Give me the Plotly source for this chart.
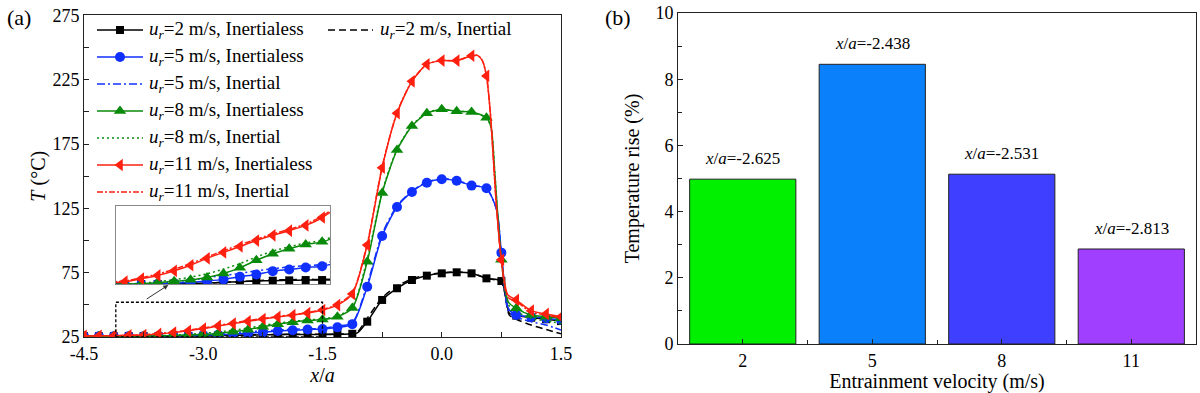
import plotly.graph_objects as go

# ---------------- data: panel (a) ----------------
x_grid = [-4.5, -4.3125, -4.125, -3.9375, -3.75, -3.5625, -3.375, -3.1875, -3.0, -2.8125,
          -2.625, -2.4375, -2.25, -2.0625, -1.875, -1.6875, -1.5, -1.3125, -1.125, -0.9375,
          -0.75, -0.5625, -0.375, -0.1875, 0.0, 0.1875, 0.375, 0.5625, 0.75, 0.9375,
          1.125, 1.3125, 1.5]

T2_inertialess = [25.6, 25.6, 25.6, 25.7, 25.7, 25.8, 25.8, 25.9, 26.0, 26.1,
                  26.3, 26.5, 26.7, 26.8, 26.9, 27.0, 27.0, 27.1, 27.5, 36.9,
                  53.8, 62.9, 69.3, 72.7, 74.5, 75.3, 74.5, 70.6, 68.5, 41.6,
                  40.0, 38.8, 37.4]
T2_inertial = [25.6, 25.6, 25.6, 25.7, 25.7, 25.8, 25.8, 25.9, 26.0, 26.1,
               26.3, 26.5, 26.8, 27.0, 27.1, 27.2, 27.2, 27.3, 27.8, 39.5,
               55.5, 64.5, 70.3, 73.3, 75.0, 75.6, 74.6, 70.8, 67.5, 38.8,
               34.3, 30.8, 27.5]
T5_inertialess = [25.5, 25.5, 25.5, 25.6, 25.6, 25.7, 25.8, 26.0, 26.3, 26.7,
                  27.2, 28.0, 28.7, 29.7, 30.2, 30.8, 31.2, 32.5, 35.0, 64.1,
                  103.5, 126.1, 137.8, 145.0, 147.6, 146.5, 142.7, 140.6, 90.6, 42.1,
                  40.8, 39.5, 38.2]
T5_inertial = [25.5, 25.5, 25.5, 25.6, 25.7, 25.8, 26.0, 26.4, 27.0, 27.7,
               28.4, 29.0, 29.8, 30.4, 31.0, 31.4, 31.7, 33.5, 36.0, 66.0,
               105.0, 127.0, 138.5, 145.5, 148.0, 147.0, 143.0, 140.5, 90.0, 40.5,
               36.9, 34.3, 30.4]
T8_inertialess = [25.5, 25.5, 25.6, 25.6, 25.7, 25.9, 26.2, 26.6, 27.1, 27.8,
                  29.0, 30.7, 33.0, 35.0, 36.5, 37.8, 38.6, 40.8, 47.5, 83.6,
                  137.0, 170.4, 189.0, 199.0, 202.0, 200.5, 200.0, 195.5, 85.0, 47.3,
                  42.1, 40.8, 39.5]
T8_inertial = [25.5, 25.5, 25.6, 25.7, 25.8, 26.0, 26.5, 27.1, 27.9, 28.9,
               30.3, 32.0, 34.0, 35.8, 37.1, 38.3, 39.0, 41.3, 48.5, 85.5,
               138.0, 171.0, 189.5, 199.3, 202.0, 200.5, 200.0, 195.3, 84.0, 45.0,
               39.5, 37.5, 35.5]
T11_inertialess = [25.8, 25.9, 26.0, 26.2, 26.5, 27.4, 28.4, 29.8, 31.5, 33.6,
                   35.4, 37.2, 39.0, 40.6, 42.0, 43.6, 46.0, 49.8, 58.5, 96.5,
                   156.6, 199.0, 223.8, 237.0, 239.9, 239.9, 243.7, 228.0, 85.0, 53.8,
                   45.5, 42.9, 40.8]
T11_inertial = [25.8, 25.9, 26.1, 26.4, 26.7, 27.7, 28.8, 30.3, 32.0, 34.0,
                35.9, 37.7, 39.4, 41.0, 42.4, 44.0, 46.4, 50.3, 59.3, 97.5,
                157.5, 199.5, 224.0, 237.0, 240.0, 240.0, 243.5, 228.0, 84.0, 52.5,
                44.5, 42.0, 40.0]

# extra curve knots read off the steep parts of the curves (no markers there)
knots2_x, knots2_T = [-1.06, 0.85], [28.2, 43.5]
knots2i_x, knots2i_T = [-1.06, 0.85], [29.0, 42.0]
knots5_x, knots5_T = [0.69, 0.84], [124.0, 47.0]
knots5i_x, knots5i_T = [0.69, 0.84], [124.0, 45.0]
knots8_x, knots8_T = [0.62, 0.67, 0.84], [188.0, 150.0, 52.0]
knots8i_x, knots8i_T = [0.62, 0.67, 0.84], [188.0, 150.0, 50.0]
knots11_x, knots11_T = [0.45, 0.51, 0.61, 0.69, 0.83], [244.0, 240.0, 200.0, 125.0, 58.0]
knots11i_x, knots11i_T = [0.45, 0.51, 0.61, 0.69, 0.83], [244.0, 240.0, 200.0, 125.0, 56.0]

x_ticks = [-4.5, -3.0, -1.5, 0.0, 1.5]
x_ticktext = ["-4.5", "-3.0", "-1.5", "0.0", "1.5"]
y_ticks = [25, 75, 125, 175, 225, 275]

U = "<i>u</i><sub><i>r</i></sub>"
legend_labels = [U + "=2 m/s, Inertialess", U + "=2 m/s, Inertial",
                 U + "=5 m/s, Inertialess", U + "=5 m/s, Inertial",
                 U + "=8 m/s, Inertialess", U + "=8 m/s, Inertial",
                 U + "=11 m/s, Inertialess", U + "=11 m/s, Inertial"]

# ---------------- data: panel (b) ----------------
velocities = ["2", "5", "8", "11"]
temp_rise = [4.98, 8.45, 5.13, 2.87]
peak_pos = ["-2.625", "-2.438", "-2.531", "-2.813"]

# ---------------- styling ----------------
FONT = "Liberation Serif, Times New Roman, serif"
BLACK, BLUE, GREEN, RED = "#000000", "#1030FF", "#0A8A0A", "#FF2010"
bar_colors = ["#00F000", "#0A80FA", "#3F3FFF", "#A03FFF"]


def merged(xs, ys, kx, ky):
    pts = sorted(list(zip(xs, ys)) + list(zip(kx, ky)))
    return [p[0] for p in pts], [p[1] for p in pts]


series = [
    # (grid T, knots x, knots T, colour, dash, symbol, size, has markers)
    (T2_inertialess, knots2_x, knots2_T, BLACK, "solid", "square", 8, True),
    (T2_inertial, knots2i_x, knots2i_T, BLACK, "7px,4px", None, 0, False),
    (T5_inertialess, knots5_x, knots5_T, BLUE, "solid", "circle", 10, True),
    (T5_inertial, knots5i_x, knots5i_T, BLUE, "8px,3px,2px,3px", None, 0, False),
    (T8_inertialess, knots8_x, knots8_T, GREEN, "solid", "triangle-up", 11, True),
    (T8_inertial, knots8i_x, knots8i_T, GREEN, "2px,3px", None, 0, False),
    (T11_inertialess, knots11_x, knots11_T, RED, "solid", "triangle-left", 11, True),
    (T11_inertial, knots11i_x, knots11i_T, RED, "6px,2px,2px,2px", None, 0, False),
]

fig = go.Figure()

for axx, axy in (("x", "y"), ("x4", "y4")):
    for T, kx, kT, col, dash, sym, size, mk in series:
        cx, cy = merged(x_grid, T, kx, kT)
        fig.add_trace(go.Scatter(x=cx, y=cy, mode="lines", xaxis=axx, yaxis=axy,
                                 line=dict(color=col, width=1.5, dash=dash, shape="spline", smoothing=0.7),
                                 showlegend=False, hoverinfo="skip"))
        if mk:
            fig.add_trace(go.Scatter(x=x_grid, y=T, mode="markers", xaxis=axx, yaxis=axy,
                                     marker=dict(color=col, symbol=sym, size=size, line=dict(width=0)),
                                     showlegend=False, hoverinfo="skip"))

# bars
fig.add_trace(go.Bar(x=list(range(len(velocities))), y=temp_rise, xaxis="x2", yaxis="y2", width=0.82,
                     marker=dict(color=bar_colors, line=dict(color="#222222", width=1)),
                     showlegend=False, hoverinfo="skip"))

# ---------------- custom legend (overlay axis in pixel units) ----------------
row_y = [30, 57, 84, 111, 138, 165, 192]
legend_items = [
    # (row, line x0, line x1, text x, series index)
    (0, 97, 143, 147, 0), (0, 328, 373, 378, 1),
    (1, 97, 143, 147, 2), (2, 97, 143, 147, 3),
    (3, 97, 143, 147, 4), (4, 97, 143, 147, 5),
    (5, 97, 143, 147, 6), (6, 97, 143, 147, 7),
]
annotations = []
for row, x0, x1, tx, si in legend_items:
    T, kx, kT, col, dash, sym, size, mk = series[si]
    yy = row_y[row]
    fig.add_trace(go.Scatter(x=[x0, x1], y=[yy, yy], mode="lines", xaxis="x3", yaxis="y3",
                             line=dict(color=col, width=1.5, dash=dash), showlegend=False, hoverinfo="skip"))
    if mk:
        fig.add_trace(go.Scatter(x=[(x0 + x1) / 2], y=[yy], mode="markers", xaxis="x3", yaxis="y3",
                                 marker=dict(color=col, symbol=sym, size=size), showlegend=False,
                                 hoverinfo="skip"))
    annotations.append(dict(x=tx, y=yy, xref="x3", yref="y3", text=legend_labels[si], showarrow=False,
                            xanchor="left", yanchor="middle", font=dict(family=FONT, size=19, color="black")))

# bar labels
for i, (v, p) in enumerate(zip(temp_rise, peak_pos)):
    annotations.append(dict(x=i, y=v, xref="x2", yref="y2", text="<i>x</i>/<i>a</i>=" + p, showarrow=False,
                            xanchor="center", yanchor="bottom", yshift=9,
                            font=dict(family=FONT, size=17, color="black")))

# panel letters
annotations.append(dict(x=5 / 1200, y=1 - 17 / 393, xref="paper", yref="paper", text="(a)", showarrow=False,
                        xanchor="left", yanchor="middle", font=dict(family=FONT, size=22, color="black")))
annotations.append(dict(x=603 / 1200, y=1 - 17 / 393, xref="paper", yref="paper", text="(b)", showarrow=False,
                        xanchor="left", yanchor="middle", font=dict(family=FONT, size=22, color="black")))

# arrow from dashed box to inset
annotations.append(dict(x=-3.44, y=65.4, ax=-3.73, ay=53.8, xref="x", yref="y", axref="x", ayref="y",
                        text="", showarrow=True, arrowhead=2, arrowsize=1, arrowwidth=1, arrowcolor="#333333"))

shapes = [dict(type="rect", xref="x", yref="y", x0=-4.1, x1=-1.5, y0=25, y1=52,
               line=dict(color="black", width=1.3, dash="3px,2px"))]

tick_font = dict(family=FONT, size=18, color="black")
title_font = dict(family=FONT, size=20, color="black")
common = dict(showline=True, mirror=True, linecolor="#222222", linewidth=1, showgrid=False, zeroline=False,
              ticks="inside", ticklen=5, tickcolor="#222222", tickfont=tick_font, automargin=False)

fig.update_layout(
    template="none",
    width=1200, height=393, margin=dict(l=0, r=0, t=0, b=0, pad=0), autosize=False,
    paper_bgcolor="white", plot_bgcolor="rgba(0,0,0,0)",
    font=dict(family=FONT, color="black"),
    xaxis=dict(domain=[0.07, 0.4675], range=[-4.5, 1.5], tickvals=x_ticks, ticktext=x_ticktext,
               minor=dict(tickmode="linear", tick0=-4.5, dtick=0.75, ticks="inside", ticklen=5,
                          tickcolor="#222222"),
               title=dict(text="<i>x</i>/<i>a</i>", font=title_font, standoff=2), anchor="y", **common),
    yaxis=dict(domain=[0.1425, 0.9606], range=[25, 275], tickvals=y_ticks,
               minor=dict(tickmode="linear", tick0=25, dtick=25, ticks="inside", ticklen=5,
                          tickcolor="#222222"),
               title=dict(text="<i>T</i> (°C)", font=title_font, standoff=1), anchor="x", **common),
    xaxis2=dict(domain=[0.565, 0.9967], range=[-0.5, 3.5], tickvals=list(range(len(velocities))),
                ticktext=velocities,
                minor=dict(tickvals=[0.5, 1.5, 2.5], ticks="inside", ticklen=4, tickcolor="#222222"),
                title=dict(text="Entrainment velocity (m/s)", font=title_font, standoff=2), anchor="y2",
                **common),
    yaxis2=dict(domain=[0.1247, 0.9669], range=[0, 10], tick0=0, dtick=2,
                minor=dict(tickmode="linear", tick0=0, dtick=1, ticks="inside", ticklen=4,
                           tickcolor="#222222"),
                title=dict(text="Temperature rise (%)", font=title_font, standoff=10), anchor="x2", **common),
    xaxis3=dict(domain=[0, 1], range=[0, 1200], visible=False, fixedrange=True, anchor="y3", automargin=False),
    yaxis3=dict(domain=[0, 1], range=[393, 0], visible=False, fixedrange=True, anchor="x3", automargin=False),
    xaxis4=dict(domain=[0.0967, 0.275], range=[-3.85, -1.41], showline=True, mirror=True, linecolor="#888888",
                linewidth=1, showticklabels=False, ticks="", showgrid=False, zeroline=False, anchor="y4",
                automargin=False),
    yaxis4=dict(domain=[0.2774, 0.4758], range=[25.8, 49.5], showline=True, mirror=True, linecolor="#888888",
                linewidth=1, showticklabels=False, ticks="", showgrid=False, zeroline=False, anchor="x4",
                automargin=False),
    annotations=annotations,
    shapes=shapes,
)

fig.write_html("out.html", config={"displayModeBar": False},
               post_script="document.body.style.margin='0px';")
